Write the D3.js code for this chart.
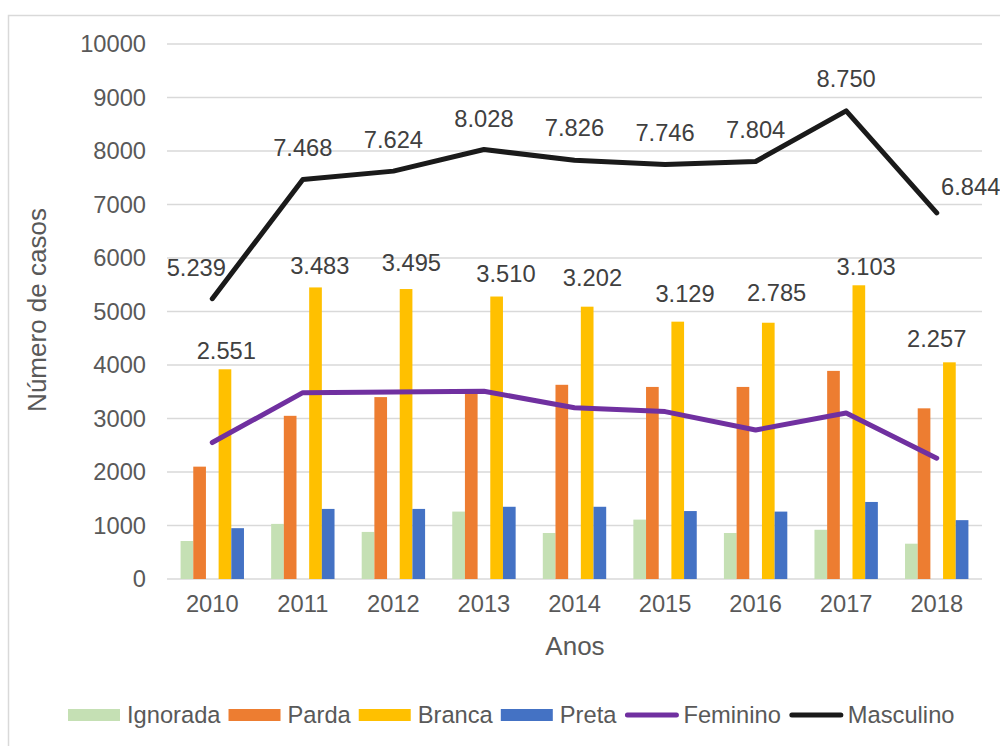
<!DOCTYPE html>
<html>
<head>
<meta charset="utf-8">
<script src="https://cdn.jsdelivr.net/npm/d3@7"></script>
<style>
  body { margin: 0; background: #fff; }
  text { font-family: "Liberation Sans", Arial, sans-serif; }
</style>
</head>
<body>
<svg id="chart" width="1000" height="746"></svg>
<script>
// categories
const years = ["2010", "2011", "2012", "2013", "2014", "2015", "2016", "2017", "2018"];

// bar series (by race/colour)
const ignorada = [710, 1030, 880, 1260, 860, 1110, 860, 920, 660];
const parda = [2100, 3050, 3400, 3480, 3630, 3590, 3590, 3890, 3190];
const branca = [3920, 5450, 5420, 5280, 5090, 4810, 4790, 5490, 4050];
const preta = [950, 1310, 1310, 1350, 1350, 1270, 1260, 1440, 1100];

// line series (by sex)
const feminino = [2551, 3483, 3495, 3510, 3202, 3129, 2785, 3103, 2257];
const masculino = [5239, 7468, 7624, 8028, 7826, 7746, 7804, 8750, 6844];

const yTicks = [0, 1000, 2000, 3000, 4000, 5000, 6000, 7000, 8000, 9000, 10000];

// label nudges (px) as placed by hand in the original
const femNudge = [[14, -92], [17, -127], [18, -129], [22, -117], [18, -130], [20, -118], [21, -137], [20, -146], [0, -119]];
const mascNudge = [[-16, -31], [0, -31], [0, -31], [0, -31], [0, -32], [0, -32], [0, -31], [0, -32], [34, -26]];

const barSeries = [
  { name: "Ignorada", values: ignorada, color: "#C5E0B4" },
  { name: "Parda", values: parda, color: "#ED7D31" },
  { name: "", values: null, color: "none" },  // empty slot in each group
  { name: "Branca", values: branca, color: "#FFC000" },
  { name: "Preta", values: preta, color: "#4472C4" }
];
const lineSeries = [
  { name: "Feminino", values: feminino, color: "#7030A0", nudge: femNudge },
  { name: "Masculino", values: masculino, color: "#1a1a1a", nudge: mascNudge }
];

const labelSize = "23.7px";
const titleSize = "26px";

const svg = d3.select("#chart");
const margin = { top: 44, right: 18, bottom: 167, left: 167 };
const width = +svg.attr("width") - margin.left - margin.right;
const height = +svg.attr("height") - margin.top - margin.bottom;

// outer chart border (only left/top visible in frame)
svg.append("rect")
  .attr("x", 8.5).attr("y", 15.5)
  .attr("width", 1100).attr("height", 900)
  .attr("fill", "none").attr("stroke", "#d9d9d9").attr("stroke-width", 1.5);

const g = svg.append("g").attr("transform", `translate(${margin.left},${margin.top})`);

const x0 = d3.scaleBand().domain(years).range([0, width]).paddingInner(0.3).paddingOuter(0.15);
const x1 = d3.scaleBand().domain(d3.range(barSeries.length)).range([0, x0.bandwidth()]);
const y = d3.scaleLinear().domain([0, 10000]).range([height, 0]);

// gridlines
g.append("g")
  .selectAll("line")
  .data(yTicks)
  .enter()
  .append("line")
  .attr("x1", 0).attr("x2", width)
  .attr("y1", (d) => y(d)).attr("y2", (d) => y(d))
  .attr("stroke", "#d9d9d9").attr("stroke-width", 1.5);

// y axis labels
const yAxis = g.append("g")
  .call(d3.axisLeft(y).tickValues(yTicks).tickSize(0).tickPadding(21).tickFormat(d3.format("d")));
yAxis.select(".domain").remove();
yAxis.selectAll("text").attr("fill", "#595959").style("font-size", labelSize);

// x axis labels
const xAxis = g.append("g")
  .attr("transform", `translate(0,${height})`)
  .call(d3.axisBottom(x0).tickSize(0).tickPadding(16));
xAxis.select(".domain").remove();
xAxis.selectAll("text").attr("fill", "#595959").style("font-size", labelSize);

// bars
barSeries.forEach((s, i) => {
  if (!s.values) return;
  g.append("g")
    .selectAll("rect")
    .data(s.values)
    .enter()
    .append("rect")
    .attr("x", (d, j) => x0(years[j]) + x1(i))
    .attr("y", (d) => y(d))
    .attr("width", x1.bandwidth())
    .attr("height", (d) => height - y(d))
    .attr("fill", s.color);
});

// lines
const cx = (j) => x0(years[j]) + x0.bandwidth() / 2;
const line = d3.line().x((d, j) => cx(j)).y((d) => y(d));

lineSeries.forEach((s) => {
  g.append("path")
    .datum(s.values)
    .attr("d", line)
    .attr("fill", "none")
    .attr("stroke", s.color)
    .attr("stroke-width", 5)
    .attr("stroke-linejoin", "round")
    .attr("stroke-linecap", "round");
});

// data labels
const fmt = (v) => d3.format(".3f")(v / 1000);
lineSeries.forEach((s) => {
  g.append("g")
    .selectAll("text")
    .data(s.values)
    .enter()
    .append("text")
    .attr("x", (d, j) => cx(j) + s.nudge[j][0])
    .attr("y", (d, j) => y(d) + s.nudge[j][1])
    .attr("text-anchor", "middle")
    .attr("dominant-baseline", "central")
    .attr("fill", "#404040")
    .style("font-size", labelSize)
    .text(fmt);
});

// axis titles
svg.append("text")
  .attr("x", 575)
  .attr("y", 646)
  .attr("text-anchor", "middle")
  .attr("dominant-baseline", "central")
  .attr("fill", "#595959")
  .style("font-size", titleSize)
  .text("Anos");

svg.append("text")
  .attr("transform", "translate(37,310) rotate(-90)")
  .attr("text-anchor", "middle")
  .attr("dominant-baseline", "central")
  .attr("fill", "#595959")
  .style("font-size", titleSize)
  .text("Número de casos");

// legend
const legendItems = barSeries.filter((s) => s.values).map((s) => ({ name: s.name, color: s.color, type: "bar" }))
  .concat(lineSeries.map((s) => ({ name: s.name, color: s.color, type: "line" })));
const legend = svg.append("g").attr("transform", "translate(68,715)");
let lx = 0;
legendItems.forEach((d) => {
  const item = legend.append("g").attr("transform", `translate(${lx},0)`);
  if (d.type === "bar") {
    item.append("rect").attr("x", 0).attr("y", -6).attr("width", 52).attr("height", 12).attr("fill", d.color);
  } else {
    item.append("line").attr("x1", 3).attr("x2", 52).attr("y1", 0).attr("y2", 0)
      .attr("stroke", d.color).attr("stroke-width", 5).attr("stroke-linecap", "round");
  }
  const t = item.append("text")
    .attr("x", 59).attr("y", 0)
    .attr("dominant-baseline", "central")
    .attr("fill", "#595959")
    .style("font-size", labelSize)
    .text(d.name);
  lx += 59 + t.node().getComputedTextLength() + 8;
});
</script>
</body>
</html>
